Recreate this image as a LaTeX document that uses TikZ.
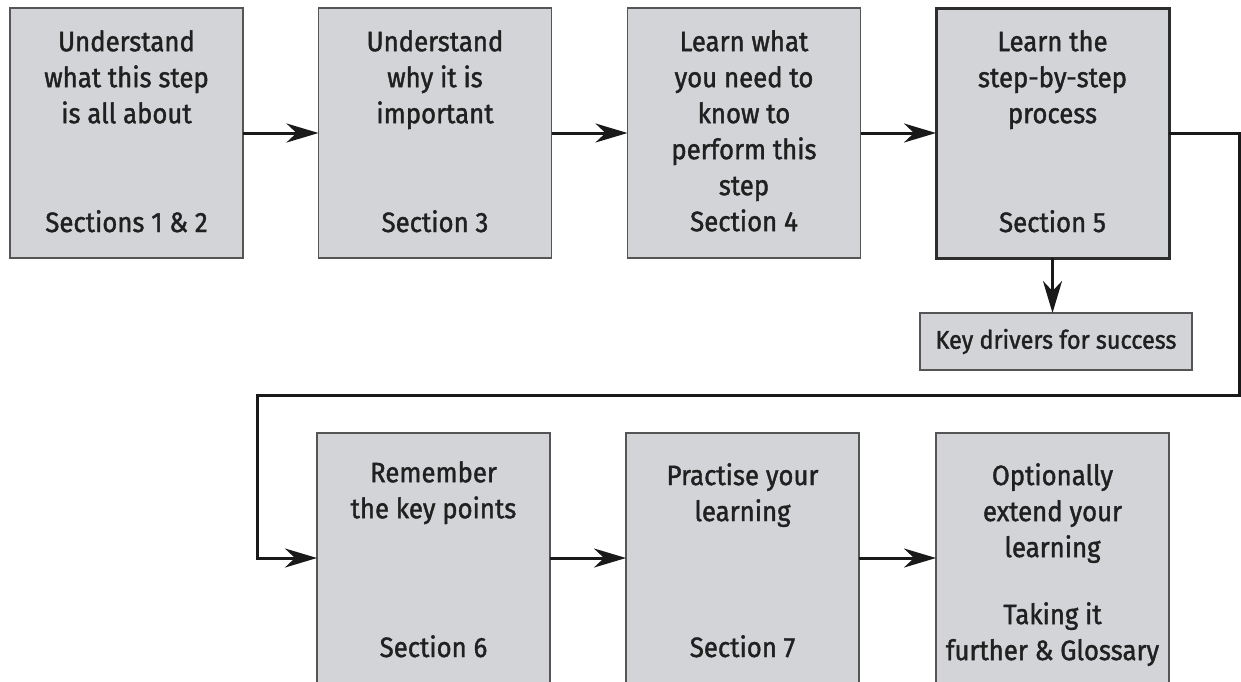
\documentclass[tikz,border=0pt]{standalone}
\usepackage{fontspec}
\setmainfont{Fira Sans}[FakeStretch=0.92,FakeBold=1.4]
\usetikzlibrary{arrows.meta}
\definecolor{boxfill}{RGB}{211,212,216}
\definecolor{boxline}{RGB}{85,85,85}
\definecolor{boxdark}{RGB}{45,45,45}
\definecolor{txtcol}{RGB}{32,32,32}
\definecolor{linecol}{RGB}{25,25,25}
\begin{document}
\begin{tikzpicture}[x=1pt,y=-1pt,
  stepbox/.style={draw=boxline, line width=1.6pt, fill=boxfill, minimum width=233pt, minimum height=250pt, inner sep=0pt, outer sep=0pt},
  keybox/.style={draw=boxline, line width=1.6pt, fill=boxfill, minimum width=272pt, minimum height=57pt, inner sep=0pt, outer sep=0pt, text=txtcol, font=\fontsize{25.5}{30}\selectfont},
  boxtext/.style={align=center, inner sep=0pt, anchor=north, text=txtcol, font=\fontsize{28}{36}\selectfont},
  sectext/.style={inner sep=0pt, anchor=base, text=txtcol, font=\fontsize{28}{36}\selectfont},
  flowline/.style={draw=linecol, line width=3pt, line join=miter},
  flow/.style={flowline, -{Stealth[length=32pt,width=19pt,inset=10pt]}}
]
\clip (0,0) rectangle (1241,681);
\fill[white] (0,0) rectangle (1241,681);
% row 1
\node[stepbox] (b1) at (126.5,133) {};
\node[stepbox] (b2) at (435,133) {};
\node[stepbox] (b3) at (744,133) {};
\node[stepbox, draw=boxdark, line width=3pt] (b4) at (1052.5,133) {};
% row 2
\node[stepbox] (b6) at (433.5,558) {};
\node[stepbox] (b7) at (742.5,558) {};
\node[stepbox] (b8) at (1052.5,558) {};
% key drivers
\node[keybox] (key) at (1056,341.5) {Key drivers for success};
% texts
\node[boxtext] (t1) at ([yshift=-22pt]b1.north) {Understand\\what this step\\is all about};
\node[sectext] (s1) at ([yshift=-224pt]b1.north) {Sections 1 \& 2};
\node[boxtext] (t2) at ([yshift=-22pt]b2.north) {Understand\\why it is\\important};
\node[sectext] (s2) at ([yshift=-224pt]b2.north) {Section 3};
\node[boxtext] (t3) at ([yshift=-22pt]b3.north) {Learn what\\you need to\\know to\\perform this\\step\\Section 4};
\node[boxtext] (t4) at ([yshift=-22pt]b4.north) {Learn the\\step-by-step\\process};
\node[sectext] (s4) at ([yshift=-224pt]b4.north) {Section 5};
\node[boxtext] (t6) at ([yshift=-28pt]b6.north) {Remember\\the key points};
\node[sectext] (s6) at ([yshift=-224pt]b6.north) {Section 6};
\node[boxtext] (t7) at ([yshift=-30pt]b7.north) {Practise your\\learning};
\node[sectext] (s7) at ([yshift=-224pt]b7.north) {Section 7};
\node[boxtext] (t8) at ([yshift=-30pt]b8.north) {Optionally\\extend your\\learning\\[31pt]Taking it\\further \& Glossary};
% connectors
\draw[flow] (b1) -- (b2);
\draw[flow] (b2) -- (b3);
\draw[flow] (b3) -- (b4);
\draw[flow] (b4.south) -- (b4.south |- key.north);
\coordinate (c1) at (1239,133);
\coordinate (c2) at (1239,395);
\coordinate (c3) at (257,395);
\coordinate (c4) at (257,558);
\draw[flow] (b4.east) -- (c1) -- (c2) -- (c3) -- (c4) -- (b6.west);
\draw[flow] (b6) -- (b7);
\draw[flow] (b7) -- (b8);
\end{tikzpicture}
\end{document}
